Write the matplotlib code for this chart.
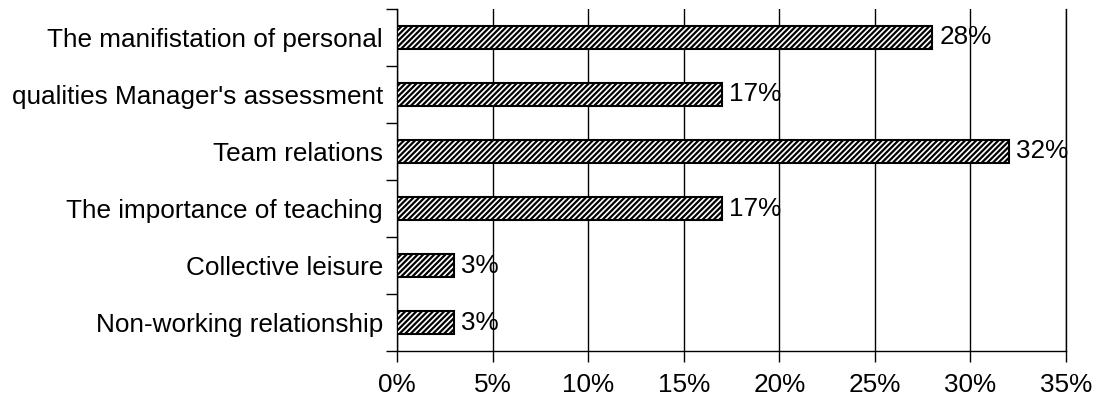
import numpy as np
import matplotlib.pyplot as plt
from matplotlib.ticker import FixedLocator, PercentFormatter

categories = [
    "The manifistation of personal",
    "qualities Manager's assessment",
    "Team relations",
    "The importance of teaching",
    "Collective leisure",
    "Non-working relationship",
]
shares = [28, 17, 32, 17, 3, 3]

plt.rcParams['font.family'] = ['Liberation Sans', 'DejaVu Sans']
plt.rcParams['hatch.linewidth'] = 1.6

fs = 18.8

fig = plt.figure(figsize=(11.04, 4.03), dpi=100)
ax = fig.add_axes([0.3596, 0.129, 0.6060, 0.8487])

n = len(categories)
pos = np.arange(n)[::-1]
bars = ax.barh(pos, shares, height=0.4, color='white', edgecolor='black',
               hatch='//////', linewidth=1.5, zorder=3)

for b, v in zip(bars, shares):
    ax.annotate(f"{v}%", (b.get_width(), b.get_y() + b.get_height() / 2),
                xytext=(5, 0), textcoords='offset points',
                va='center', ha='left', fontsize=fs, zorder=4)

ax.set_xlim(0, 35)
ax.set_ylim(-0.5, n - 0.5)
ax.set_xticks(np.arange(0, 36, 5))
ax.xaxis.set_major_formatter(PercentFormatter(decimals=0))
ax.set_yticks(pos)
ax.set_yticklabels(categories)
ax.yaxis.set_minor_locator(FixedLocator(np.arange(-0.5, n, 1.0)))

ax.tick_params(axis='y', which='major', length=0, pad=10, labelsize=fs)
ax.tick_params(axis='y', which='minor', length=8, width=1, direction='out')
ax.tick_params(axis='x', length=8, width=1, direction='out', pad=8, labelsize=fs)

ax.grid(axis='x', color='black', linewidth=1, zorder=0)
ax.spines['top'].set_visible(False)
for s in ['left', 'bottom', 'right']:
    ax.spines[s].set_color('black')
    ax.spines[s].set_linewidth(1)

fig.savefig('out.png', dpi=100)
